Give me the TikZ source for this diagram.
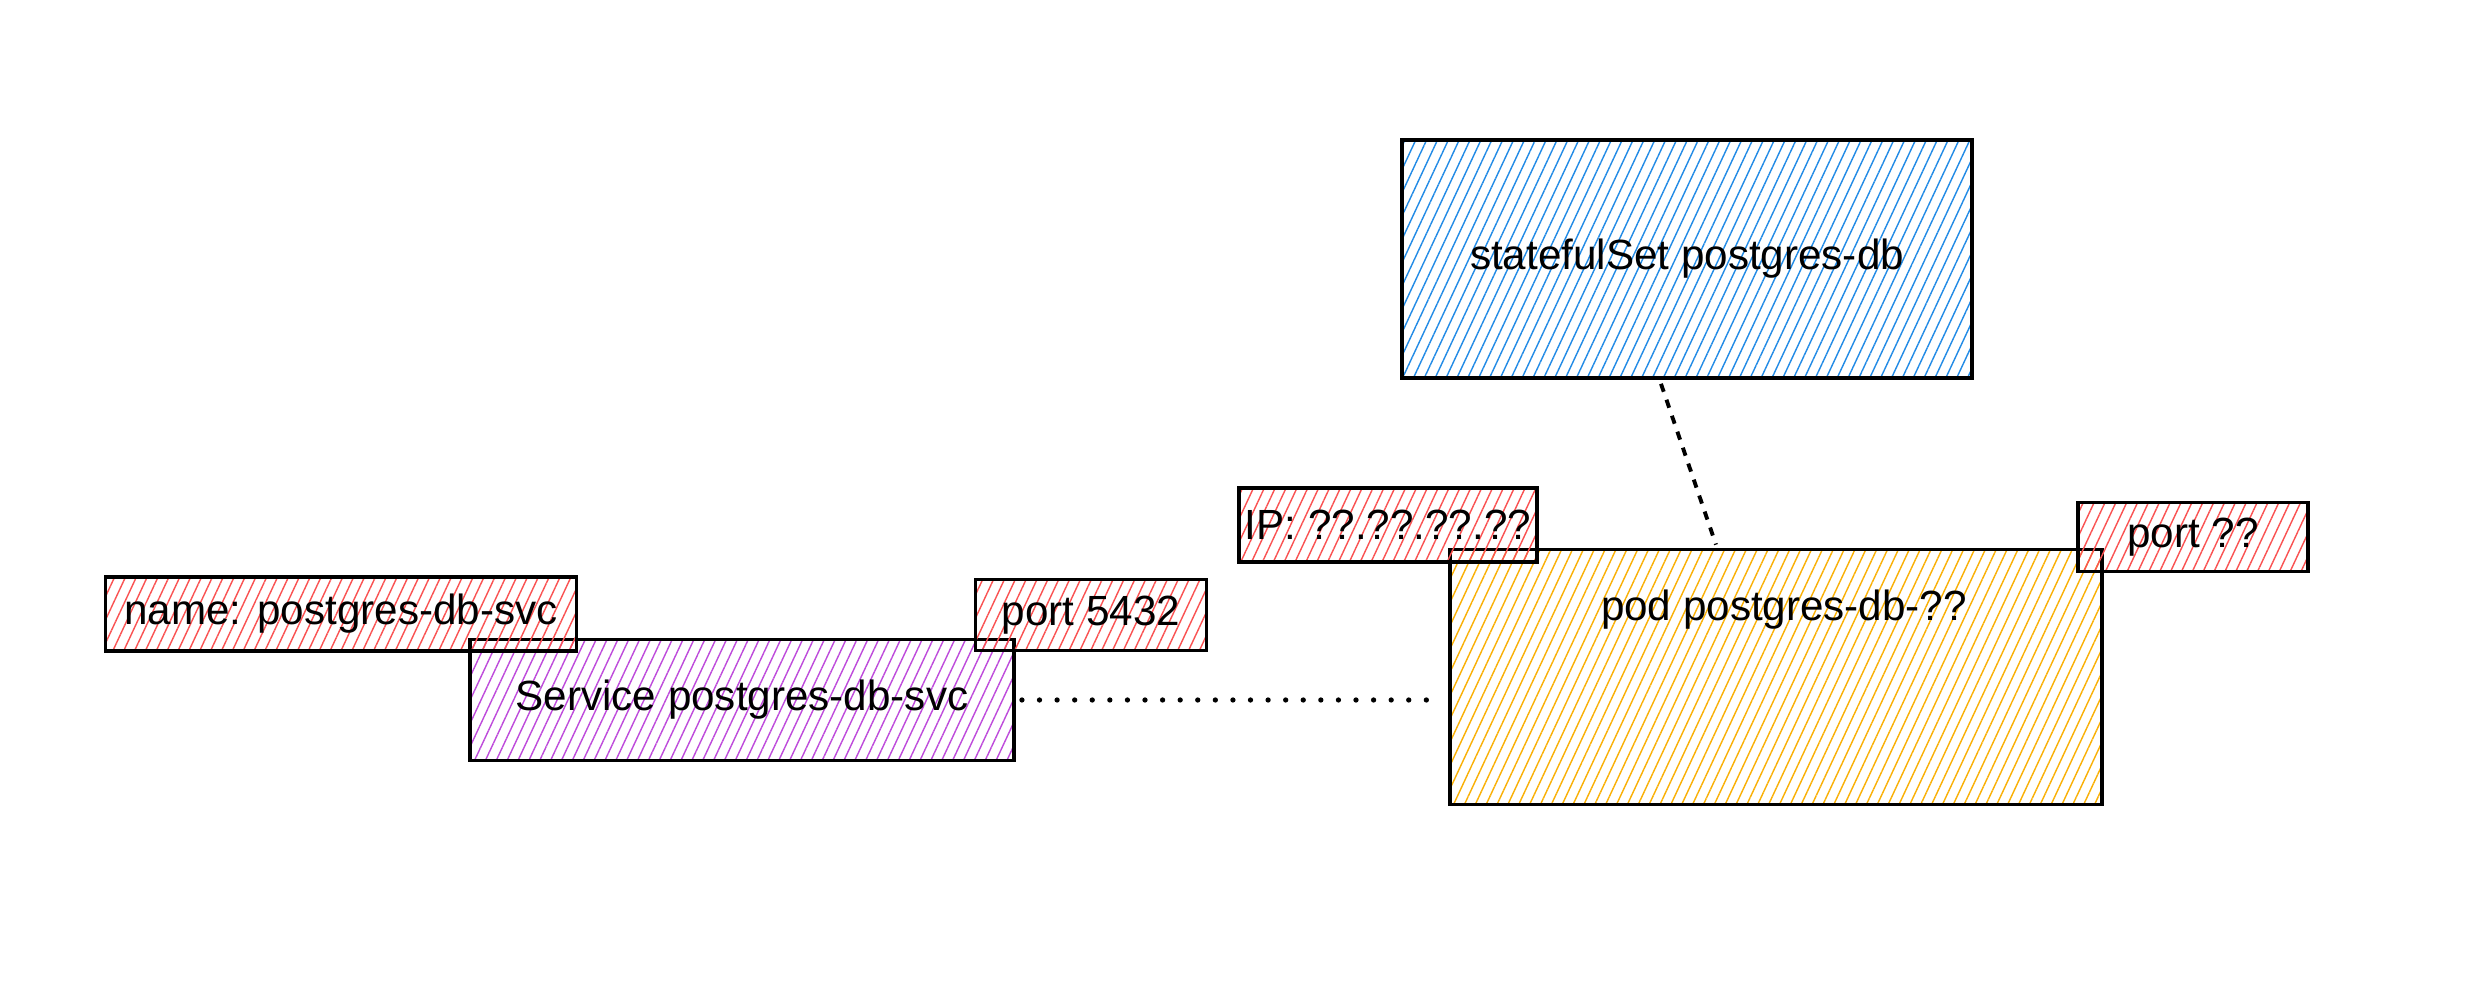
\documentclass[tikz,border=0pt]{standalone}
\usepackage{fontspec}
\setmainfont{Liberation Sans}
\usepackage{tikz}
\usetikzlibrary{patterns.meta}

\definecolor{hatchred}{HTML}{FA5252}
\definecolor{hatchviolet}{HTML}{BE4BDB}
\definecolor{hatchblue}{HTML}{228BE6}
\definecolor{hatchyellow}{HTML}{FAB005}

\begin{document}
\begin{tikzpicture}[x=0.01cm, y=-0.01cm,
    every node/.style={font=\fontsize{12}{14}\selectfont, inner sep=0pt},
    sketchbox/.style={draw=black, line width=1pt, rectangle,
        pattern={Lines[angle=65, distance=2.8pt, line width=0.4pt]}, pattern color=#1},
    tagbox/.style={sketchbox=hatchred},
    dotline/.style={line width=1.5pt, line cap=round, dash pattern=on 0pt off 5pt},
    dashline/.style={line width=1.1pt, dash pattern=on 2.4pt off 2.4pt}]
      \useasboundingbox[fill=white] (0,0) rectangle (2490,986);
      \def\podx{1776}% pod centre
      \def\pody{677}
      \def\svcx{742}
      \def\svcy{700}
      % -------------------------------------------- statefulSet
      \node[sketchbox=hatchblue, minimum width=5.7cm, minimum height=2.38cm] at (1687, 259) (sts) {};
      \node at (1687, 259) (sts_label) {statefulSet postgres-db};
      % -------------------------------------------- pod
      \node[sketchbox=hatchyellow, minimum width=6.52cm, minimum height=2.55cm] at (\podx, \pody) (pod) {};
      \node at (1784, 610) (pod_label) {pod postgres-db-??};
      \node[tagbox, minimum width=2.98cm, minimum height=0.74cm] at (1388, 525) (pod_ip) {IP: ??.??.??.??};
      \node[tagbox, minimum width=2.30cm, minimum height=0.69cm] at (2193, 537) (pod_port) {port ??};
      % -------------------------------------------- Service
      \node[sketchbox=hatchviolet, minimum width=5.44cm, minimum height=1.21cm] at (\svcx, \svcy) (svc) {Service postgres-db-svc};
      \node[tagbox, minimum width=4.71cm, minimum height=0.74cm] at (341, 614) (svc_name) {name: postgres-db-svc};
      \node[tagbox, minimum width=2.31cm, minimum height=0.71cm] at (1091, 615) (svc_port) {port 5432};
      % -------------------------------------------- links
      \draw[dotline] ([xshift=0.06cm]svc.east) -- ([xshift=-0.06cm]svc.east -| pod.west);
      \draw[dashline] ([xshift=-0.26cm, yshift=-0.05cm]sts.south) -- ([xshift=-0.6cm, yshift=0.03cm]pod.north);
\end{tikzpicture}
\end{document}
